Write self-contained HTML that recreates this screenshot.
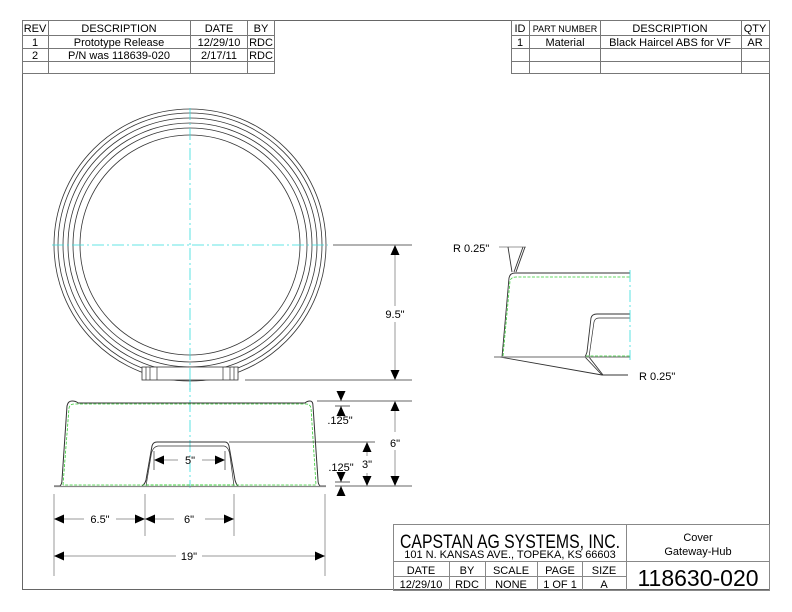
<!DOCTYPE html>
<html><head><meta charset="utf-8"><style>
html,body{margin:0;padding:0;background:#fff;width:792px;height:612px;overflow:hidden}
svg{display:block}
text{font-family:"Liberation Sans",Arial,sans-serif;fill:#000}
</style></head><body>
<svg width="792" height="612" viewBox="0 0 792 612" xmlns="http://www.w3.org/2000/svg">
<defs>
<marker id="a" viewBox="0 0 10 10" refX="10" refY="5" markerWidth="10" markerHeight="10" orient="auto-start-reverse" markerUnits="userSpaceOnUse"><path d="M0,0.5 L10,5 L0,9.5 z" fill="#000"/></marker>
</defs>
<rect x="22.5" y="20.5" width="747" height="569" fill="none" stroke="#666" stroke-width="1"/>
<g stroke="#777" stroke-width="1" fill="none">
<rect x="22.5" y="20.5" width="252" height="53"/>
<line x1="22" y1="35.5" x2="275" y2="35.5"/><line x1="22" y1="48.5" x2="275" y2="48.5"/><line x1="22" y1="61.5" x2="275" y2="61.5"/>
<line x1="48.5" y1="20" x2="48.5" y2="74"/><line x1="190.5" y1="20" x2="190.5" y2="74"/><line x1="247.5" y1="20" x2="247.5" y2="74"/>
</g>
<g font-size="11" text-anchor="middle">
<text x="35" y="32">REV</text><text x="119" y="32">DESCRIPTION</text><text x="219" y="32">DATE</text><text x="261" y="32">BY</text>
<text x="35" y="46">1</text><text x="119" y="46">Prototype Release</text><text x="219" y="46">12/29/10</text><text x="261" y="46">RDC</text>
<text x="35" y="59">2</text><text x="119" y="59">P/N was 118639-020</text><text x="219" y="59">2/17/11</text><text x="261" y="59">RDC</text>
</g>
<g stroke="#777" stroke-width="1" fill="none">
<rect x="511.5" y="20.5" width="258" height="53"/>
<line x1="511" y1="35.5" x2="770" y2="35.5"/><line x1="511" y1="48.5" x2="770" y2="48.5"/><line x1="511" y1="61.5" x2="770" y2="61.5"/>
<line x1="529.5" y1="20" x2="529.5" y2="74"/><line x1="600.5" y1="20" x2="600.5" y2="74"/><line x1="741.5" y1="20" x2="741.5" y2="74"/>
</g>
<g font-size="11" text-anchor="middle">
<text x="520" y="32">ID</text><text x="565" y="32" font-size="9">PART NUMBER</text><text x="670" y="32">DESCRIPTION</text><text x="755" y="32">QTY</text>
<text x="520" y="46">1</text><text x="565" y="46">Material</text><text x="670" y="46">Black Haircel ABS for VF</text><text x="755" y="46">AR</text>
</g>
<g fill="none" stroke="#333" stroke-width="0.8">
<circle cx="190" cy="245" r="136"/><circle cx="190" cy="245" r="132"/><circle cx="190" cy="245" r="127"/>
<circle cx="190" cy="245" r="122"/><circle cx="190" cy="245" r="117"/><circle cx="190" cy="245" r="110"/>
</g>
<rect x="142" y="367" width="96" height="13" fill="#fff" stroke="#333" stroke-width="0.8"/>
<g stroke="#333" stroke-width="0.7"><line x1="146" y1="367" x2="146" y2="380"/><line x1="150" y1="367" x2="150" y2="380"/><line x1="157" y1="367" x2="157" y2="380"/><line x1="223" y1="367" x2="223" y2="380"/><line x1="230" y1="367" x2="230" y2="380"/><line x1="234" y1="367" x2="234" y2="380"/></g>
<g stroke="#3dd" stroke-width="0.8" stroke-dasharray="12,3,2,3"><line x1="190" y1="108" x2="190" y2="390"/><line x1="52" y1="245" x2="328" y2="245"/></g>
<g stroke="#333" stroke-width="0.8"><line x1="333" y1="245" x2="412" y2="245"/><line x1="245" y1="380" x2="412" y2="380"/></g>
<line x1="395" y1="245" x2="395" y2="306" stroke="#999" marker-start="url(#a)"/>
<line x1="395" y1="322" x2="395" y2="380" stroke="#999" marker-end="url(#a)"/>
<text x="395" y="318" font-size="11" text-anchor="middle">9.5"</text>
<line x1="190" y1="380" x2="190" y2="488" stroke="#3dd" stroke-width="0.8" stroke-dasharray="12,3,2,3"/>
<g fill="none" stroke="#333" stroke-width="1">
<path d="M54,486 L60,486 Q62,484 62,480 L67,406 Q68,401 72,401 Q76,401 78,403 L305,403 Q307,401 310,401 Q313,401 313,406 L318,480 Q318,484 320,486 L326,486"/>
<path d="M142,486 Q145,484 146,480 L152,446 Q153,442 157,442 L225,442 Q228,442 229,446 L235,480 Q236,484 238,486"/>
<path d="M146,486 L151,456 Q152,447 158,446 L224,446 Q229,447 230,456 L234,486" stroke-width="0.7"/>
</g>
<line x1="54" y1="486.5" x2="326" y2="486.5" stroke="#888" stroke-width="1.2"/>
<g fill="none" stroke="#3c3" stroke-width="0.8" stroke-dasharray="3,1.5">
<path d="M63,485 L69,408 Q70,404 74,404 L306,404 Q310,404 311,408 L316,485 L63,485"/>
<line x1="146" y1="485" x2="234" y2="485"/>
</g>
<g stroke="#333" stroke-width="0.8"><line x1="317" y1="401" x2="412" y2="401"/><line x1="229" y1="442" x2="375" y2="442"/><line x1="335" y1="486" x2="412" y2="486"/><line x1="335" y1="406" x2="350" y2="406"/><line x1="335" y1="482" x2="350" y2="482"/></g>
<line x1="395" y1="401" x2="395" y2="432" stroke="#999" marker-start="url(#a)"/>
<line x1="395" y1="450" x2="395" y2="486" stroke="#999" marker-end="url(#a)"/>
<text x="395" y="447" font-size="11" text-anchor="middle">6"</text>
<line x1="367" y1="442" x2="367" y2="456" stroke="#999" marker-start="url(#a)"/>
<line x1="367" y1="473" x2="367" y2="486" stroke="#999" marker-end="url(#a)"/>
<text x="367" y="468" font-size="11" text-anchor="middle">3"</text>
<line x1="341" y1="391" x2="341" y2="401" stroke="#555" marker-end="url(#a)"/>
<line x1="341" y1="416" x2="341" y2="406" stroke="#555" marker-end="url(#a)"/>
<text x="340" y="424" font-size="11" text-anchor="middle">.125"</text>
<line x1="341" y1="472" x2="341" y2="482" stroke="#555" marker-end="url(#a)"/>
<line x1="341" y1="496" x2="341" y2="486" stroke="#555" marker-end="url(#a)"/>
<text x="341" y="471" font-size="11" text-anchor="middle">.125"</text>
<g stroke="#333" stroke-width="0.7"><line x1="154" y1="451" x2="154" y2="470"/><line x1="225" y1="451" x2="225" y2="470"/></g>
<line x1="178" y1="460" x2="154" y2="460" stroke="#999" marker-end="url(#a)"/>
<line x1="202" y1="460" x2="225" y2="460" stroke="#999" marker-end="url(#a)"/>
<text x="190" y="464" font-size="11" text-anchor="middle">5"</text>
<g stroke="#999" stroke-width="1"><line x1="54" y1="494" x2="54" y2="576"/><line x1="145" y1="494" x2="145" y2="536"/><line x1="234" y1="494" x2="234" y2="536"/><line x1="325" y1="494" x2="325" y2="576"/></g>
<line x1="84" y1="519" x2="54" y2="519" stroke="#999" marker-end="url(#a)"/>
<line x1="116" y1="519" x2="145" y2="519" stroke="#999" marker-end="url(#a)"/>
<text x="100" y="523" font-size="11" text-anchor="middle">6.5"</text>
<line x1="174" y1="519" x2="145" y2="519" stroke="#999" marker-end="url(#a)"/>
<line x1="205" y1="519" x2="234" y2="519" stroke="#999" marker-end="url(#a)"/>
<text x="189" y="523" font-size="11" text-anchor="middle">6"</text>
<line x1="176" y1="556" x2="54" y2="556" stroke="#999" marker-end="url(#a)"/>
<line x1="202" y1="556" x2="325" y2="556" stroke="#999" marker-end="url(#a)"/>
<text x="189" y="560" font-size="11" text-anchor="middle">19"</text>
<g fill="none" stroke="#333" stroke-width="0.9">
<path d="M502,357 L509,278 Q510,273 515,273 L630,273"/>
<path d="M585,357 Q586,355 587,352 L591,318 Q592,314 597,314 L630,314"/>
<path d="M589,357 L594,322 Q595,318 599,318 L630,318" stroke-width="0.7"/>
<line x1="499" y1="247" x2="526" y2="247" stroke="#999"/>
<line x1="508" y1="247" x2="512" y2="272"/><line x1="525" y1="247" x2="516" y2="272"/><line x1="523" y1="247" x2="514" y2="272"/>
<line x1="500" y1="357" x2="602" y2="375"/><line x1="585" y1="357" x2="602" y2="375"/><line x1="589" y1="357" x2="603" y2="375"/><line x1="602" y1="375" x2="628" y2="375"/>
</g>
<line x1="494" y1="357" x2="630" y2="357" stroke="#888" stroke-width="1.2"/>
<line x1="630" y1="270" x2="630" y2="360" stroke="#3dd" stroke-width="0.8" stroke-dasharray="12,3,2,3"/>
<g fill="none" stroke="#3c3" stroke-width="0.8" stroke-dasharray="3,1.5">
<path d="M503,356 L510,281 Q511,277 516,277 L630,277"/><line x1="586" y1="356" x2="630" y2="356"/>
</g>
<text x="453" y="252" font-size="11">R 0.25"</text>
<text x="639" y="380" font-size="11">R 0.25"</text>
<g stroke="#888" stroke-width="1" fill="none">
<rect x="393.5" y="524.5" width="376" height="66"/>
<line x1="626.5" y1="524" x2="626.5" y2="590"/>
<line x1="393" y1="561.5" x2="770" y2="561.5"/>
<line x1="393" y1="576.5" x2="626" y2="576.5"/>
<line x1="449.5" y1="561" x2="449.5" y2="590"/><line x1="485.5" y1="561" x2="485.5" y2="590"/><line x1="537.5" y1="561" x2="537.5" y2="590"/><line x1="582.5" y1="561" x2="582.5" y2="590"/>
</g>
<text x="510" y="548" font-size="19" text-anchor="middle" textLength="220" lengthAdjust="spacingAndGlyphs">CAPSTAN AG SYSTEMS, INC.</text>
<text x="510" y="558" font-size="11" text-anchor="middle">101 N. KANSAS AVE., TOPEKA, KS 66603</text>
<text x="698" y="541" font-size="11" text-anchor="middle">Cover</text>
<text x="698" y="555" font-size="11" text-anchor="middle">Gateway-Hub</text>
<g font-size="11" text-anchor="middle">
<text x="421" y="574">DATE</text><text x="467" y="574">BY</text><text x="511" y="574">SCALE</text><text x="560" y="574">PAGE</text><text x="604" y="574">SIZE</text>
<text x="421" y="588">12/29/10</text><text x="467" y="588">RDC</text><text x="511" y="588">NONE</text><text x="560" y="588">1 OF 1</text><text x="604" y="588">A</text>
</g>
<text x="698" y="586" font-size="23" text-anchor="middle">118630-020</text>
</svg>
</body></html>
